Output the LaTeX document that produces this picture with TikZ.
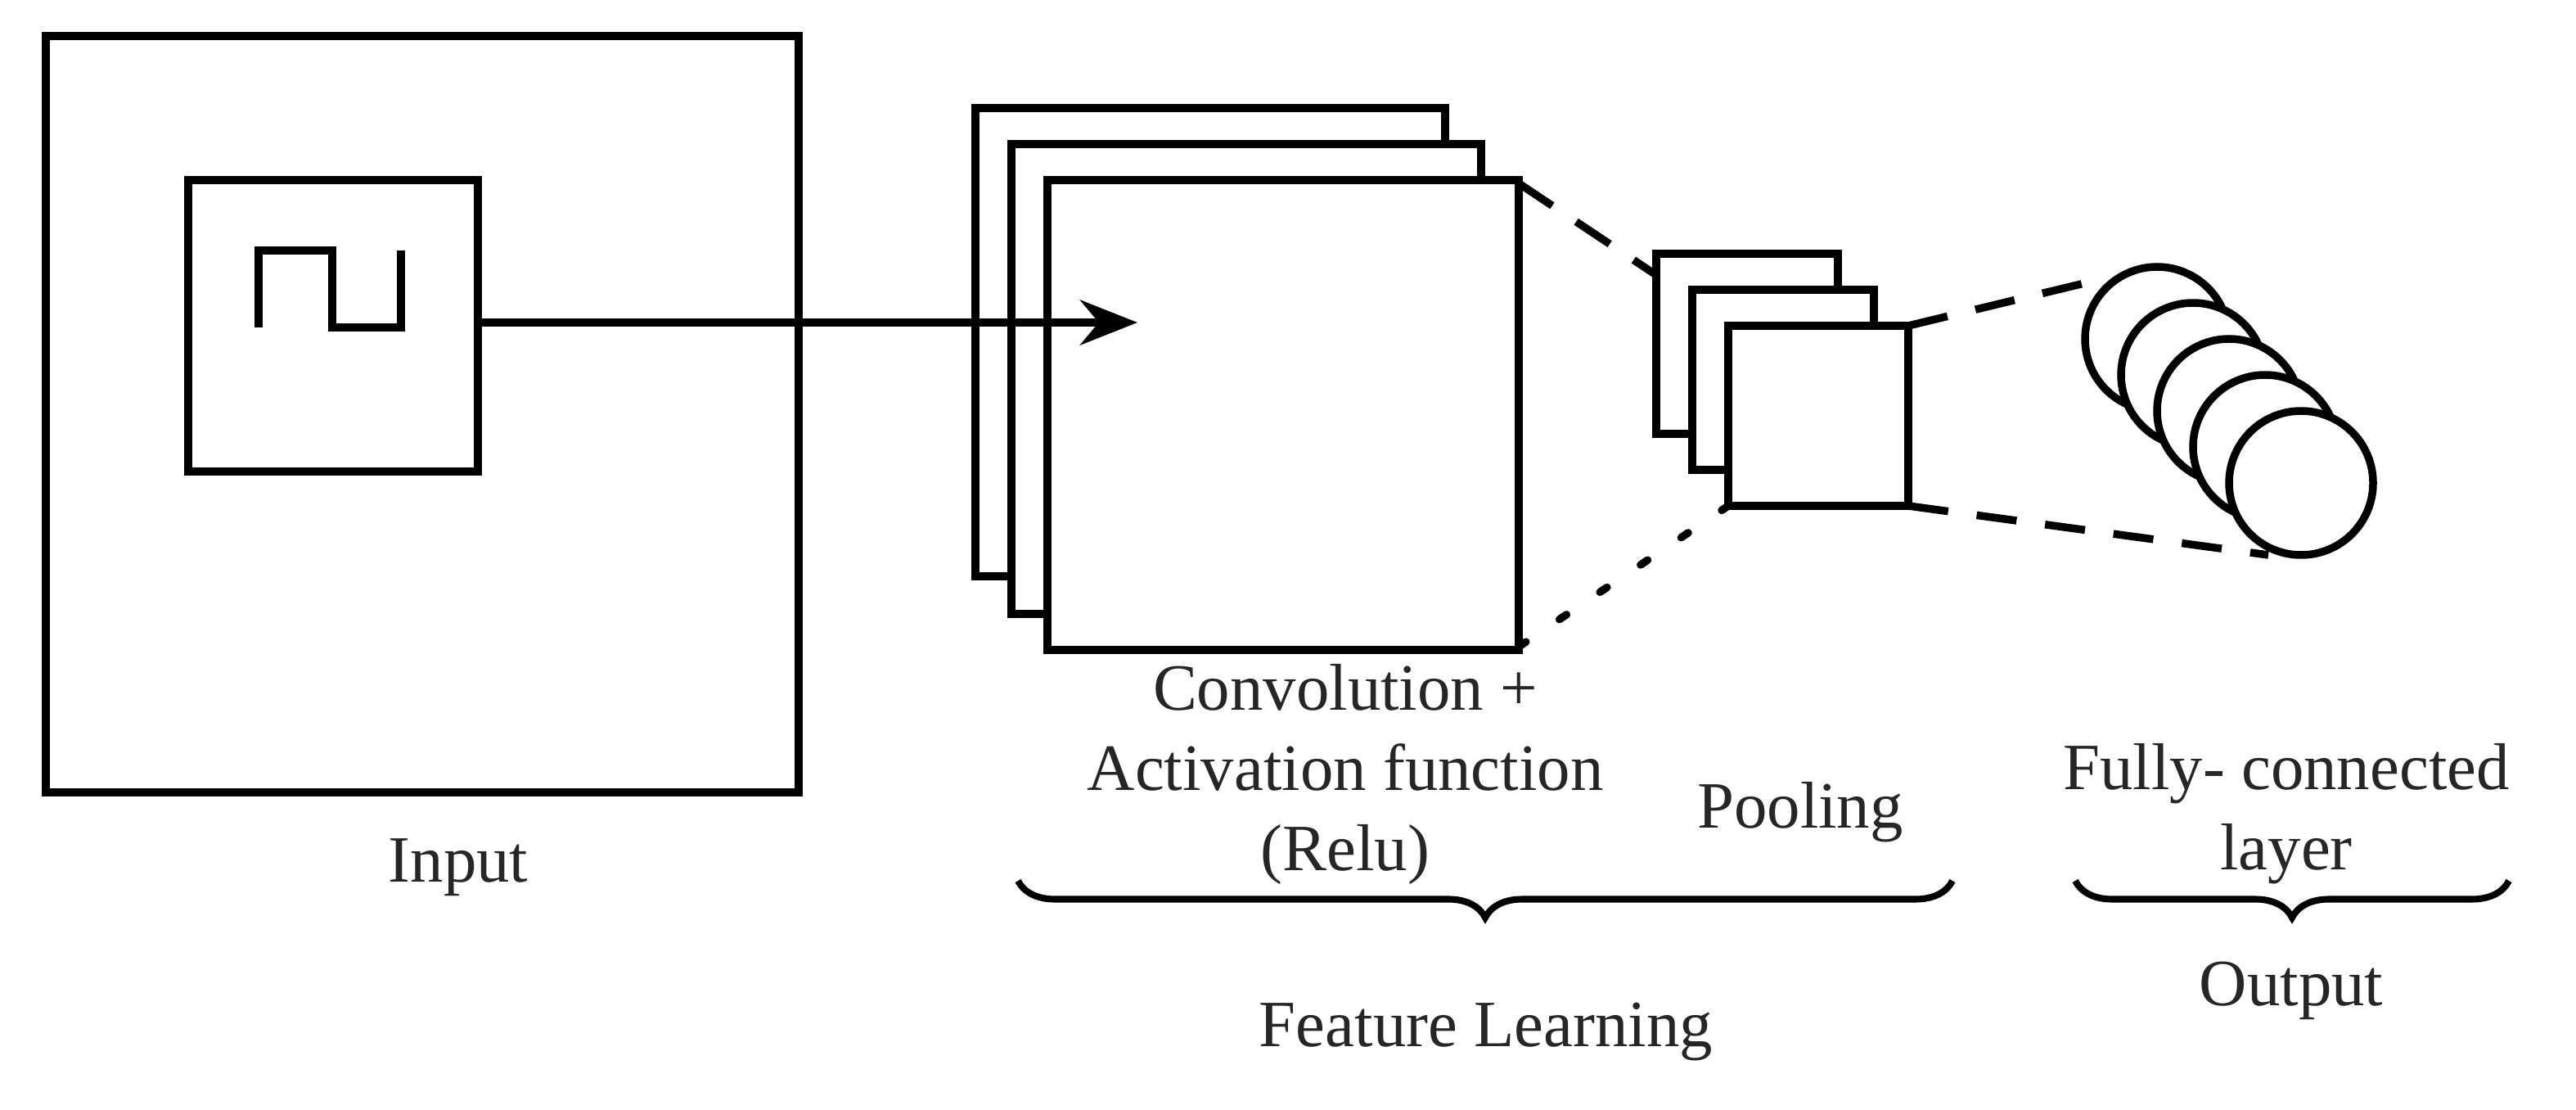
\documentclass[tikz,border=0pt]{standalone}
\usepackage{fontspec}
\setmainfont{Liberation Serif}
\usetikzlibrary{decorations.pathreplacing,arrows.meta}
\begin{document}
\begin{tikzpicture}[x=0.02cm,y=-0.02cm,line width=2.7pt,
  box/.style={draw,fill=white,line width=2.7pt},
  lbl/.style={font=\fontsize{23}{28}\selectfont,text=black!85},
  brc/.style={decorate,decoration={brace,mirror,amplitude=0.45cm},line width=2.3pt}]
\useasboundingbox (0,0) rectangle (1574,678);
% input
\draw[box] (28,22) rectangle (488,484);
\draw[box] (115,110) rectangle (292,288);
\coordinate (inE) at (292,197);
\draw (158,200) -- (158,153) -- (203,153) -- (203,200) -- (245,200) -- (245,153);
% conv
\draw[box] (596,66) rectangle (883,352);
\draw[box] (618,88) rectangle (905,375);
\draw[box] (640,110) rectangle (928,397);
\coordinate (cTR) at (928,112);
\coordinate (cBR) at (928,395);
\coordinate (aEnd) at (695,197);
\draw[-{Stealth[length=0.7cm,width=0.55cm]}] (inE) -- (aEnd);
% pool
\draw[box] (1012,155) rectangle (1123,265);
\draw[box] (1034,177) rectangle (1145,287);
\draw[box] (1056,199) rectangle (1166,309);
\coordinate (pTL) at (1012,168);
\coordinate (pBL) at (1056,309);
\coordinate (pTR) at (1166,199);
\coordinate (pBR) at (1166,309);
\draw[dash pattern=on 14pt off 10pt] (cTR) -- (pTL);
\draw[dash pattern=on 3pt off 14pt,line cap=round] (cBR) -- (pBL);
% fc circles
\foreach \i in {0,...,4}
  \draw[box] ({1318+22*\i},{207+22*\i}) circle[radius=44];
\coordinate (fT) at (1286,170);
\coordinate (fB) at (1386,339);
\draw[dash pattern=on 14pt off 10pt] (pTR) -- (fT);
\draw[dash pattern=on 14pt off 10pt] (pBR) -- (fB);
% labels
\node[lbl] (tin) at (280,530) {Input};
\node[lbl,align=center] (tconv) at (822,473) {Convolution +\\Activation function\\(Relu)};
\node[lbl] (tpool) at (1100,496) {Pooling};
\node[lbl,align=center] (tfc) at (1397,497) {Fully- connected\\layer};
\draw[brc] (622,538) -- (1193,538);
\draw[brc] (1268,538) -- (1533,538);
\node[lbl] (tfl) at (908,630) {Feature Learning};
\node[lbl] (tout) at (1400,605) {Output};
\end{tikzpicture}
\end{document}
